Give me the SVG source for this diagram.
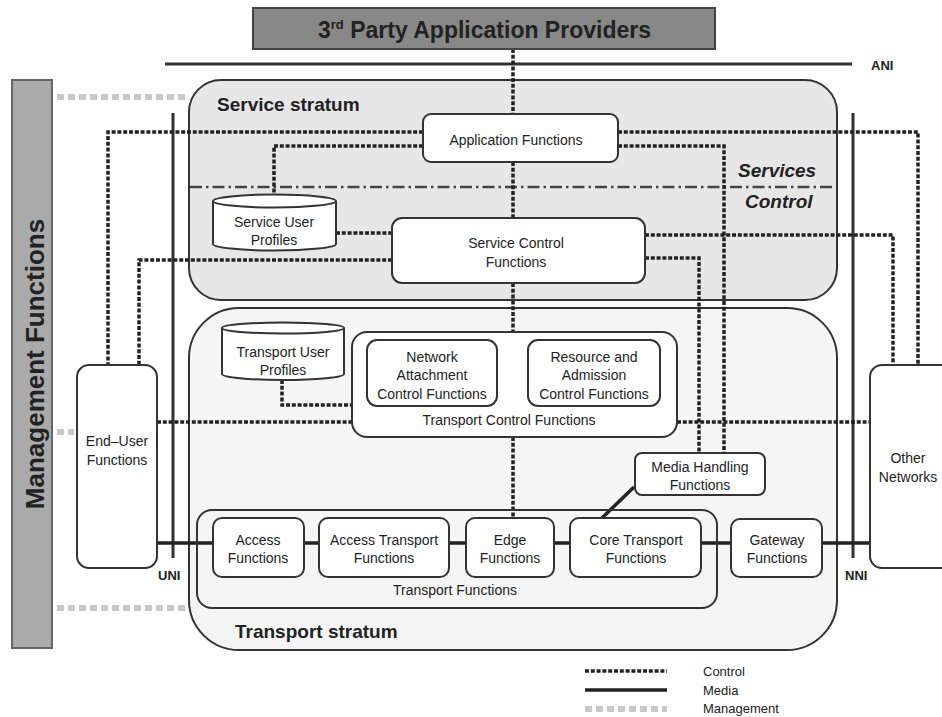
<svg xmlns="http://www.w3.org/2000/svg" width="942" height="717" viewBox="0 0 942 717">
<style>
text{font-family:"Liberation Sans",Arial,sans-serif;fill:#222}
.t{font-size:14px;text-anchor:middle}
.b{font-weight:bold}
.box{fill:#fff;stroke:#333;stroke-width:2}
.ctl{fill:none;stroke:#222;stroke-width:3.5;stroke-dasharray:4 1.8}
.med{fill:none;stroke:#222;stroke-width:3.5}
.mgt{fill:none;stroke:#c8c8c8;stroke-width:6;stroke-dasharray:7 4}
.ifc{fill:none;stroke:#333;stroke-width:3}
</style>

<!-- strata -->
<g id="service-stratum">
<rect x="189" y="80" width="648" height="220" rx="32" fill="#e7e7e7" stroke="#333" stroke-width="2"/>
<text x="217" y="111" class="b" font-size="19">Service stratum</text>
<line x1="190" y1="187" x2="835" y2="187" stroke="#444" stroke-width="2.5" stroke-dasharray="12 4 2.5 4"/>
<text x="738" y="177" class="b" font-size="19" font-style="italic">Services</text>
<text x="745" y="208" class="b" font-size="19" font-style="italic">Control</text>
</g>
<g id="transport-stratum">
<rect x="189" y="308" width="648" height="342" rx="50" fill="#f5f5f5" stroke="#333" stroke-width="2"/>
<text x="235" y="638" class="b" font-size="19">Transport stratum</text>
</g>

<!-- interfaces -->
<g id="interfaces">
<line x1="165" y1="64" x2="852" y2="64" class="ifc"/>
<text x="871" y="70" class="b" font-size="13">ANI</text>
<line x1="173" y1="113" x2="173" y2="558" class="ifc"/>
<text x="158" y="580" class="b" font-size="13">UNI</text>
<line x1="853" y1="113" x2="853" y2="558" class="ifc"/>
<text x="845" y="580" class="b" font-size="13">NNI</text>
</g>

<!-- connectors -->
<g id="connectors">
<!-- management -->
<line x1="57" y1="97" x2="188" y2="97" class="mgt"/>
<line x1="57" y1="432" x2="74" y2="432" class="mgt"/>
<line x1="57" y1="608" x2="188" y2="608" class="mgt"/>
<!-- control -->
<line x1="513" y1="49" x2="513" y2="114" class="ctl"/>
<line x1="513" y1="162" x2="513" y2="218" class="ctl"/>
<line x1="513" y1="283" x2="513" y2="332" class="ctl"/>
<line x1="513" y1="437" x2="513" y2="518" class="ctl"/>
<polyline points="423,132 108,132 108,365" class="ctl"/>
<polyline points="423,146 274,146 274,196" class="ctl"/>
<polyline points="618,132 918,132 918,365" class="ctl"/>
<polyline points="618,146 724,146 724,453" class="ctl"/>
<polyline points="645,235 893,235 893,365" class="ctl"/>
<polyline points="645,258 699,258 699,453" class="ctl"/>
<polyline points="392,260 139,260 139,365" class="ctl"/>
<line x1="336" y1="233" x2="392" y2="233" class="ctl"/>
<polyline points="282,380 282,405 352,405" class="ctl"/>
<line x1="157" y1="422" x2="352" y2="422" class="ctl"/>
<line x1="677" y1="422" x2="870" y2="422" class="ctl"/>
<!-- media -->
<line x1="157" y1="543" x2="870" y2="543" class="med"/>
<line x1="634" y1="487" x2="602" y2="518" class="med"/>
</g>

<!-- nodes -->
<g id="third-party">
<rect x="253" y="8" width="462" height="41" fill="#888" stroke="#444" stroke-width="2"/>
<text x="318" y="38" class="b" font-size="23">3<tspan font-size="13" dy="-9">rd</tspan><tspan dy="9"> Party Application Providers</tspan></text>
</g>

<g id="management-functions">
<rect x="12" y="80" width="40" height="568" fill="#aaa" stroke="#666" stroke-width="2"/>
<text transform="translate(44,364) rotate(-90)" class="b" font-size="26" text-anchor="middle">Management Functions</text>
</g>

<g id="application-functions">
<rect x="423" y="114" width="195" height="48" rx="8" class="box"/>
<text x="516" y="145" class="t">Application Functions</text>
</g>

<g id="service-user-profiles">
<path d="M213,201 V244 A61.5,6.5 0 0 0 336,244 V201" class="box"/>
<ellipse cx="274.5" cy="201" rx="61.5" ry="6.5" class="box"/>
<text x="274" y="227" class="t">Service User</text>
<text x="274" y="245" class="t">Profiles</text>
</g>

<g id="service-control-functions">
<rect x="392" y="218" width="253" height="65" rx="10" class="box"/>
<text x="516" y="248" class="t">Service Control</text>
<text x="516" y="267" class="t">Functions</text>
</g>

<g id="transport-user-profiles">
<path d="M222,328 V374 A61,6 0 0 0 344,374 V328" class="box"/>
<ellipse cx="283" cy="328" rx="61" ry="5.5" class="box"/>
<text x="283" y="357" class="t">Transport User</text>
<text x="283" y="375" class="t">Profiles</text>
</g>

<g id="transport-control-functions">
<rect x="352" y="332" width="325" height="105" rx="15" class="box"/>
<text x="509" y="425" class="t">Transport Control Functions</text>
</g>

<g id="nacf">
<rect x="367" y="340" width="130" height="66" rx="10" class="box"/>
<text x="432" y="362" class="t">Network</text>
<text x="432" y="380" class="t">Attachment</text>
<text x="432" y="399" class="t">Control Functions</text>
</g>

<g id="racf">
<rect x="528" y="340" width="132" height="66" rx="10" class="box"/>
<text x="594" y="362" class="t">Resource and</text>
<text x="594" y="380" class="t">Admission</text>
<text x="594" y="399" class="t">Control Functions</text>
</g>

<g id="media-handling-functions">
<rect x="635" y="453" width="130" height="42" rx="7" class="box"/>
<text x="700" y="472" class="t">Media Handling</text>
<text x="700" y="490" class="t">Functions</text>
</g>

<g id="end-user-functions">
<rect x="77" y="365" width="80" height="203" rx="12" class="box"/>
<text x="117" y="446" class="t">End–User</text>
<text x="117" y="465" class="t">Functions</text>
</g>

<g id="other-networks">
<rect x="870" y="365" width="90" height="203" rx="12" class="box"/>
<text x="908" y="463" class="t">Other</text>
<text x="908" y="482" class="t">Networks</text>
</g>

<g id="transport-functions">
<rect x="197" y="510" width="520" height="98" rx="15" fill="none" stroke="#333" stroke-width="2"/>
<text x="455" y="595" class="t">Transport Functions</text>
</g>

<g id="access-functions">
<rect x="213" y="518" width="91" height="59" rx="9" class="box"/>
<text x="258" y="545" class="t">Access</text>
<text x="258" y="563" class="t">Functions</text>
</g>

<g id="access-transport-functions">
<rect x="319" y="518" width="130" height="59" rx="9" class="box"/>
<text x="384" y="545" class="t">Access Transport</text>
<text x="384" y="563" class="t">Functions</text>
</g>

<g id="edge-functions">
<rect x="466" y="518" width="88" height="59" rx="9" class="box"/>
<text x="510" y="545" class="t">Edge</text>
<text x="510" y="563" class="t">Functions</text>
</g>

<g id="core-transport-functions">
<rect x="570" y="518" width="131" height="59" rx="9" class="box"/>
<text x="636" y="545" class="t">Core Transport</text>
<text x="636" y="563" class="t">Functions</text>
</g>

<g id="gateway-functions">
<rect x="731" y="519" width="91" height="58" rx="9" class="box"/>
<text x="777" y="545" class="t">Gateway</text>
<text x="777" y="563" class="t">Functions</text>
</g>

<g id="legend">
<line x1="585" y1="671" x2="667" y2="671" class="ctl"/>
<line x1="585" y1="690" x2="667" y2="690" class="med"/>
<line x1="585" y1="709" x2="667" y2="709" class="mgt"/>
<text x="703" y="676" font-size="13">Control</text>
<text x="703" y="695" font-size="13">Media</text>
<text x="703" y="713" font-size="13">Management</text>
</g>
</svg>
